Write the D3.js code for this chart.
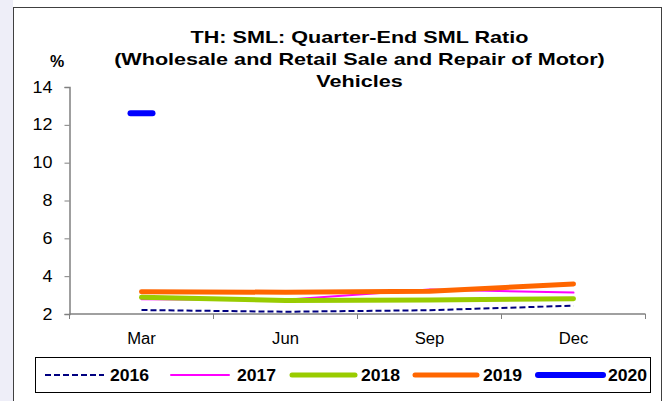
<!DOCTYPE html>
<html>
<head>
<meta charset="utf-8">
<script src="https://cdn.jsdelivr.net/npm/d3@7/dist/d3.min.js"></script>
<style>
  html, body { margin: 0; padding: 0; background: #ffffff; }
  svg { display: block; font-family: "Liberation Sans", Arial, sans-serif; }
</style>
</head>
<body>
<svg id="chart" width="669" height="401"></svg>
<script>
// Quarter-end SML ratio (%), wholesale & retail sale and repair of motor vehicles
const quarters = ["Mar", "Jun", "Sep", "Dec"];
const years = ["2016", "2017", "2018", "2019", "2020"];
const values2016 = [2.21, 2.12, 2.20, 2.44];
const values2017 = [2.78, 2.75, 3.30, 3.13];
const values2018 = [2.88, 2.72, 2.74, 2.81];
const values2019 = [3.18, 3.15, 3.20, 3.59];
const values2020 = [12.61, null, null, null];
const yTicks = [2, 4, 6, 8, 10, 12, 14];
const titleLines = [
  "TH: SML: Quarter-End SML Ratio",
  "(Wholesale and Retail Sale and Repair of Motor)",
  "Vehicles"
];

const seriesStyle = {
  "2016": { color: "#000080", width: 2, dash: "6,3" },
  "2017": { color: "#ff00ff", width: 2, dash: null },
  "2018": { color: "#99cc00", width: 5, dash: null },
  "2019": { color: "#ff6600", width: 5, dash: null },
  "2020": { color: "#0000ff", width: 6, dash: null }
};
const seriesValues = {
  "2016": values2016, "2017": values2017, "2018": values2018,
  "2019": values2019, "2020": values2020
};

// widen glyphs horizontally by a factor, keeping the anchor
function stretch(sel, factor) {
  sel.each(function () {
    const w = this.getComputedTextLength();
    d3.select(this).attr("textLength", w * factor).attr("lengthAdjust", "spacingAndGlyphs");
  });
}

const svg = d3.select("#chart");

// page backdrop and chart frame
svg.append("rect").attr("x", 0).attr("y", 0).attr("width", 669).attr("height", 401).attr("fill", "#ffffff");
svg.append("rect").attr("x", 0).attr("y", 0).attr("width", 13).attr("height", 401).attr("fill", "#eeeef8");
svg.append("rect").attr("x", 13.5).attr("y", 7.5).attr("width", 648).attr("height", 400)
  .attr("fill", "#ffffff").attr("stroke", "#404040").attr("stroke-width", 1);

const x = d3.scaleBand().domain(quarters).range([69.5, 645.5]);
const y = d3.scaleLinear().domain([2, 14]).range([314, 87]);

// title
const title = svg.append("g");
title.selectAll("text").data(titleLines).enter().append("text")
  .attr("x", 359.5).attr("y", (d, i) => 43 + i * 22)
  .attr("text-anchor", "middle").attr("font-weight", "bold").attr("font-size", 17)
  .attr("fill", "#000").text(d => d)
  .call(stretch, 1.27);

// unit label
svg.append("text").attr("x", 57).attr("y", 67).attr("text-anchor", "middle")
  .attr("font-weight", "bold").attr("font-size", 16).text("%");

// y axis
const yAxis = d3.axisLeft(y).tickValues(yTicks).tickSize(5).tickPadding(12);
const gy = svg.append("g").attr("transform", "translate(69.5,0)").call(yAxis);
gy.select(".domain").attr("stroke", "#808080").attr("stroke-width", 1.5);
gy.selectAll(".tick line").attr("stroke", "#808080");
gy.selectAll(".tick text").attr("font-size", 16).attr("fill", "#000")
  .attr("font-family", "Liberation Sans, Arial, sans-serif")
  .call(stretch, 1.12);

// x axis with ticks between categories
const xAxisLine = svg.append("g");
xAxisLine.append("line").attr("x1", x.range()[0]).attr("x2", x.range()[1])
  .attr("y1", y(2)).attr("y2", y(2)).attr("stroke", "#808080").attr("stroke-width", 1.5);
const boundaries = quarters.map(q => x(q)).concat([x.range()[1]]);
xAxisLine.selectAll("line.tk").data(boundaries).enter().append("line")
  .attr("class", "tk").attr("x1", d => d).attr("x2", d => d)
  .attr("y1", y(2)).attr("y2", y(2) + 5).attr("stroke", "#808080");
xAxisLine.selectAll("text").data(quarters).enter().append("text")
  .attr("x", d => x(d) + x.bandwidth() / 2).attr("y", y(2) + 30)
  .attr("text-anchor", "middle").attr("font-size", 16).text(d => d)
  .call(stretch, 1.04);

// series lines
const line = d3.line()
  .defined(d => d.v !== null)
  .x(d => x(d.q) + x.bandwidth() / 2)
  .y(d => y(d.v));

years.forEach(yr => {
  const st = seriesStyle[yr];
  const pts = quarters.map((q, i) => ({ q, v: seriesValues[yr][i] }));
  const valid = pts.filter(p => p.v !== null);
  if (valid.length > 1) {
    svg.append("path").datum(pts).attr("d", line).attr("fill", "none")
      .attr("stroke", st.color).attr("stroke-width", st.width)
      .attr("stroke-dasharray", st.dash).attr("stroke-linecap", st.dash ? "butt" : "round")
      .attr("stroke-linejoin", "round");
  } else {
    // single point: dash marker
    valid.forEach(p => {
      const cx = x(p.q) + x.bandwidth() / 2;
      svg.append("line").attr("x1", cx - 11).attr("x2", cx + 11)
        .attr("y1", y(p.v)).attr("y2", y(p.v))
        .attr("stroke", st.color).attr("stroke-width", st.width).attr("stroke-linecap", "round");
    });
  }
});

// legend
svg.append("rect").attr("x", 35.5).attr("y", 357.5).attr("width", 615).attr("height", 35)
  .attr("fill", "#fff").attr("stroke", "#000").attr("stroke-width", 1);
const legendPos = [
  { x1: 45, x2: 104, tx: 110 },
  { x1: 171, x2: 229, tx: 237 },
  { x1: 292, x2: 355, tx: 361 },
  { x1: 415, x2: 477, tx: 483 },
  { x1: 538, x2: 603, tx: 608 }
];
years.forEach((yr, i) => {
  const st = seriesStyle[yr];
  const lp = legendPos[i];
  svg.append("line").attr("x1", lp.x1).attr("x2", lp.x2).attr("y1", 375).attr("y2", 375)
    .attr("stroke", st.color).attr("stroke-width", st.width)
    .attr("stroke-dasharray", st.dash).attr("stroke-linecap", st.dash ? "butt" : "round");
  svg.append("text").attr("x", lp.tx).attr("y", 381).attr("font-size", 16)
    .attr("font-weight", "bold").text(yr)
    .call(stretch, 1.1);
});
</script>
</body>
</html>
